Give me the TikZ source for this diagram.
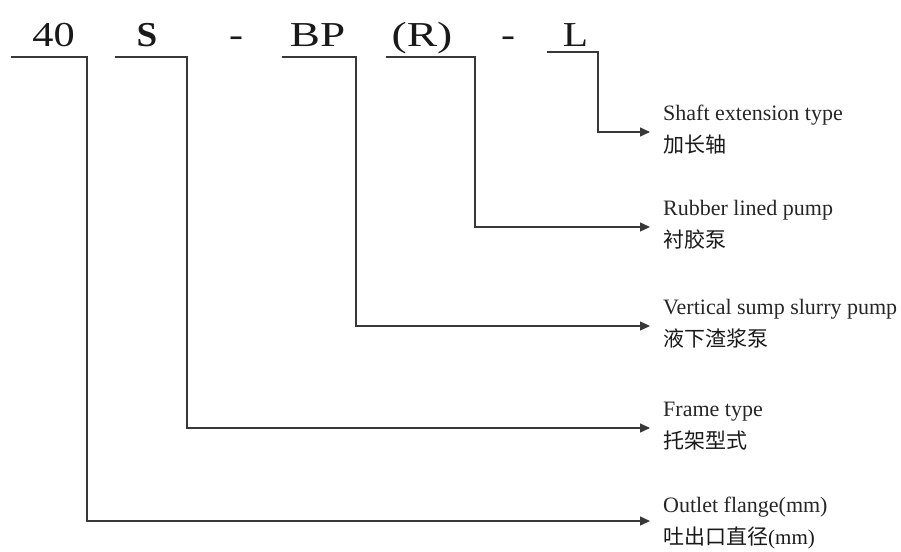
\documentclass[tikz,border=0pt]{standalone}
\usepackage{fontspec}
\setmainfont{Liberation Serif}
\newfontfamily\cjk{Noto Sans CJK SC}
\usetikzlibrary{arrows.meta}
\begin{document}
\begin{tikzpicture}[x=1pt,y=-1pt,
  code/.style={inner sep=0pt, anchor=base, font=\fontsize{35}{37}\selectfont, text=black!90},
  conn/.style={draw=black!78, line width=1.3pt, -{Triangle[length=10pt,width=9pt]}},
  en/.style={inner sep=0pt, anchor=base west, font=\fontsize{22}{24}\selectfont, text=black!85},
  zh/.style={inner sep=0pt, anchor=base west, font=\fontsize{21}{24}\selectfont, text=black!90}]
\useasboundingbox (0,0) rectangle (901,551);
% code letters
\node[code] (n40) at (53.5,47) {\scalebox{1.21}[1]{40}};
\node[code] (nS)  at (147,47)  {\scalebox{1.06}[1]{\bfseries S}};
\node[code] (d1)  at (236,47)  {\scalebox{1.2}[1]{-}};
\node[code] (nBP) at (317.5,47) {\scalebox{1.29}[1]{BP}};
\node[code] (nR)  at (422,47)  {\scalebox{1.3}[1]{(R)}};
\node[code] (d2)  at (508,47)  {\scalebox{1.2}[1]{-}};
\node[code] (nL)  at (575.5,46) {\scalebox{1.18}[1]{L}};
% connector points
\coordinate (s1) at (11,57);  \coordinate (k1) at (87,57);  \coordinate (a1) at (650,521);
\coordinate (s2) at (115,57); \coordinate (k2) at (187,57); \coordinate (a2) at (650,428);
\coordinate (s3) at (282,57); \coordinate (k3) at (356,57); \coordinate (a3) at (650,326);
\coordinate (s4) at (386,57); \coordinate (k4) at (475,57); \coordinate (a4) at (650,227);
\coordinate (s5) at (547,52); \coordinate (k5) at (598,52); \coordinate (a5) at (650,132);
\draw[conn] (s1) -- (k1) |- (a1);
\draw[conn] (s2) -- (k2) |- (a2);
\draw[conn] (s3) -- (k3) |- (a3);
\draw[conn] (s4) -- (k4) |- (a4);
\draw[conn] (s5) -- (k5) |- (a5);
% labels
\node[en] (e5) at (663,120) {Shaft extension type};
\node[zh] (c5) at (663,152) {\cjk 加长轴};
\node[en] (e4) at (663,215) {Rubber lined pump};
\node[zh] (c4) at (663,247) {\cjk 衬胶泵};
\node[en] (e3) at (663,314) {Vertical sump slurry pump};
\node[zh] (c3) at (663,346) {\cjk 液下渣浆泵};
\node[en] (e2) at (663,416) {Frame type};
\node[zh] (c2) at (663,448) {\cjk 托架型式};
\node[en] (e1) at (663,512) {Outlet flange(mm)};
\node[zh] (c1) at (663,544) {{\cjk 吐出口直径}(mm)};
\end{tikzpicture}
\end{document}
